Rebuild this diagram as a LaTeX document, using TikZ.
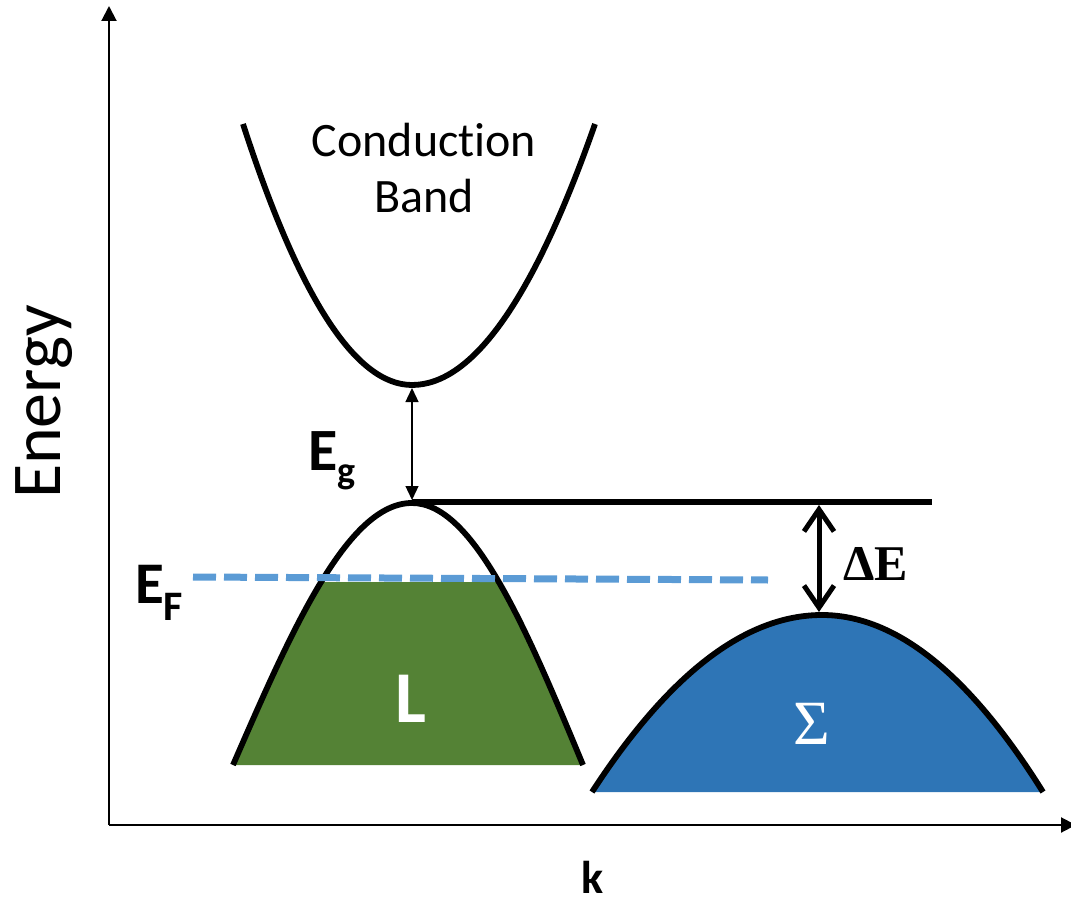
\documentclass[tikz,border=0pt]{standalone}
\usepackage{fontspec}
\setmainfont{Carlito}[Ligatures=NoCommon]
\newfontfamily\serifgr{Liberation Serif}
\usetikzlibrary{arrows.meta}
\definecolor{lgreen}{HTML}{548235}
\definecolor{sblue}{HTML}{2E75B6}
\definecolor{efblue}{HTML}{5B9BD5}
\tikzset{
  axis/.style={line width=2pt, -{Triangle[length=15pt,width=15pt]}},
  band/.style={line width=5.8pt},
  egarrow/.style={line width=1.3pt, {Triangle[length=14pt,width=13pt]}-{Triangle[length=14pt,width=13pt]}},
  dearrow/.style={line width=5pt, line cap=round, line join=round, {Straight Barb[length=22pt,width=30pt]}-{Straight Barb[length=22pt,width=30pt]}},
  efline/.style={efblue, line width=7pt, dash pattern=on 23pt off 8pt},
  lbl/.style={inner sep=0pt, anchor=base},
}
\begin{document}
\begin{tikzpicture}[x=1pt,y=-1pt]
\useasboundingbox (0,0) rectangle (1071,901);
% axes
\coordinate (O) at (109,825);
\coordinate (ytip) at (109,6);
\coordinate (xtip) at (1076,825);
\draw[axis] (O) -- (ytip);
\draw[axis] (O) -- (xtip);
% conduction band
\coordinate (cbL) at (243,124);
\coordinate (cbmin) at (412,385);
\coordinate (cbR) at (595,124);
\draw[band] (cbL) .. controls (299.3,298) and (355.7,385) .. (cbmin)
  .. controls (473,385) and (534,298) .. (cbR);
% L band
\coordinate (lL) at (233,765);
\coordinate (ltop) at (412,503);
\coordinate (lR) at (583,765);
\begin{scope}
  \clip (0,582) rectangle (1071,901);
  \fill[lgreen] (lL) sin (ltop) cos (lR) -- cycle;
\end{scope}
\draw[band] (lL) sin (ltop) cos (lR);
% Sigma band
\coordinate (sL) at (592,792);
\coordinate (stop) at (822,615);
\coordinate (sR) at (1043,792);
\fill[sblue] (sL) .. controls (668.7,674) and (745.3,615) .. (stop)
  .. controls (895.7,615) and (969.3,674) .. (sR) -- cycle;
\draw[band] (sL) .. controls (668.7,674) and (745.3,615) .. (stop)
  .. controls (895.7,615) and (969.3,674) .. (sR);
% top level line
\coordinate (lineR) at (932,502);
\draw[band] (ltop |- lineR) -- (lineR);
% Eg arrow
\coordinate (egA) at (412,388);
\coordinate (egB) at (412,500);
\draw[egarrow] (egA) -- (egB);
% Delta E arrow
\coordinate (deA) at (819,505);
\coordinate (deB) at (819,612);
\draw[dearrow] (deA) -- (deB);
% Fermi level
\coordinate (efL) at (193,577);
\coordinate (efR) at (768,580);
\draw[efline] (efL) -- (efR);
% labels
\node[lbl, rotate=90] (energy) at (60,402) {\fontsize{70}{70}\selectfont Energy};
\node[inner sep=0pt, align=center, font=\fontsize{48}{56}\selectfont] (cbtext) at (424,168) {Conduction\\Band};
\node[lbl, anchor=base west] (eg) at (308,470) {\fontsize{60}{60}\selectfont\bfseries E\raisebox{-13pt}{\fontsize{38}{38}\selectfont g}};
\node[lbl, anchor=base west] (ef) at (135,603) {\fontsize{59}{59}\selectfont\bfseries E\raisebox{-17pt}{\fontsize{42}{42}\selectfont F}};
\node[lbl, anchor=base west] (de) at (843,580) {\serifgr\fontsize{50}{50}\selectfont\bfseries ΔE};
\node[lbl, white] (ltext) at (411,722) {\fontsize{73}{73}\selectfont\bfseries L};
\node[lbl, white] (stext) at (812,744) {\serifgr\fontsize{63}{63}\selectfont Σ};
\node[lbl] (ktext) at (593,893) {\fontsize{46}{46}\selectfont\bfseries k};
\end{tikzpicture}
\end{document}
